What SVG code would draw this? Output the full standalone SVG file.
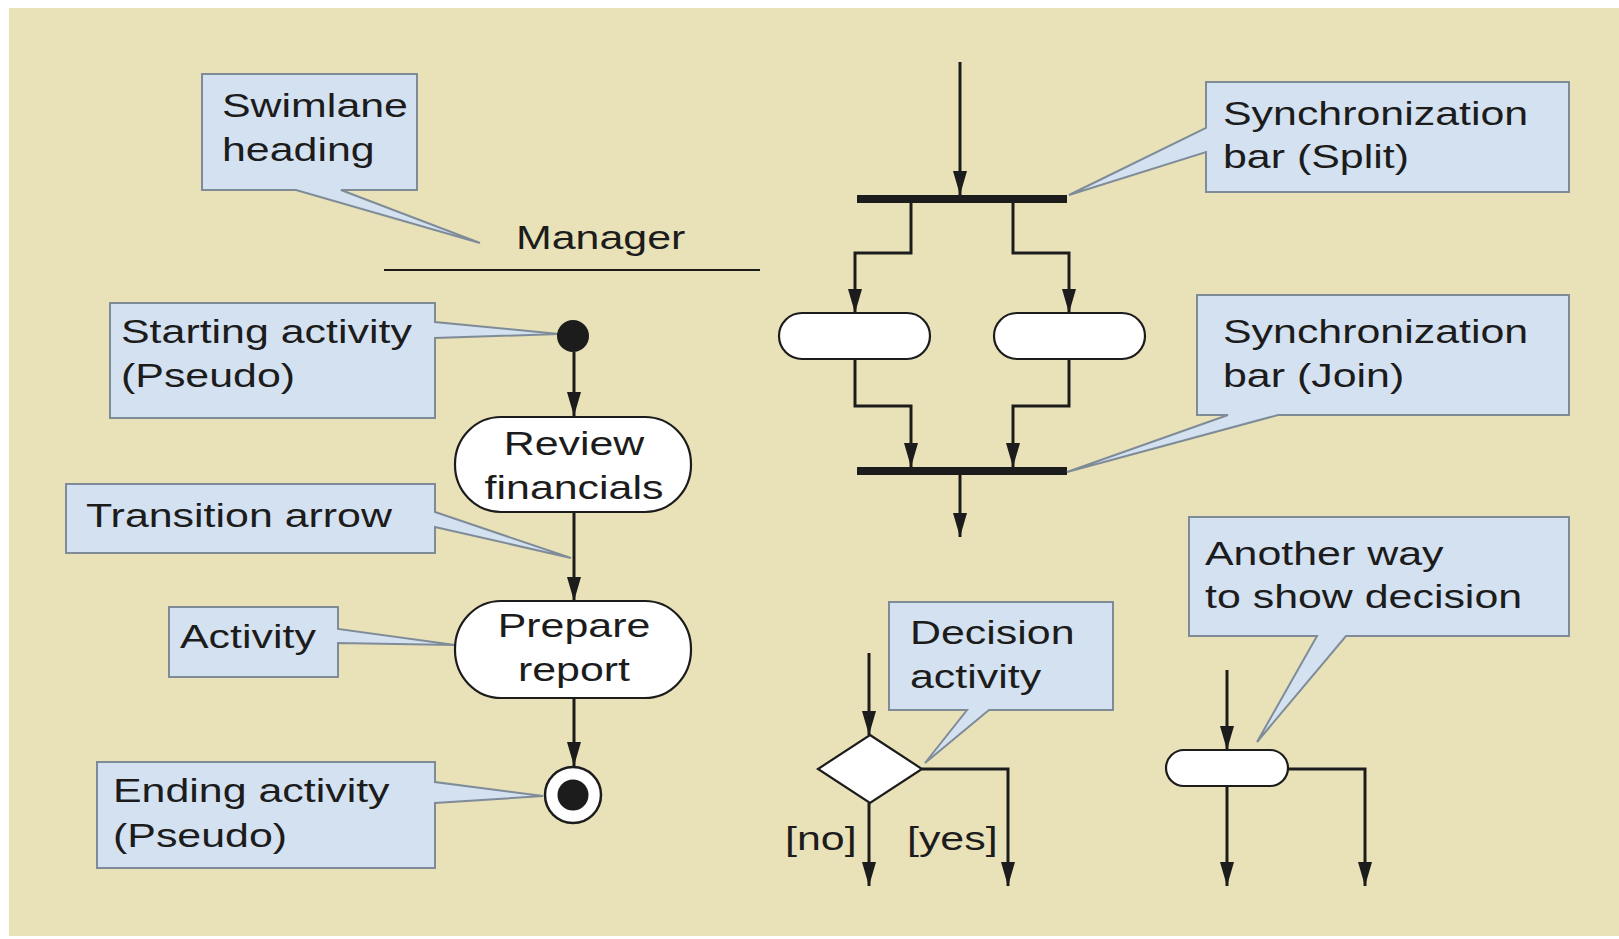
<svg xmlns="http://www.w3.org/2000/svg" width="1619" height="939" viewBox="0 0 1619 939">
<style>
.t{font-family:"Liberation Sans",Arial,sans-serif;font-size:33px;fill:#1c1c1c}
.call{fill:#d4e1f0;stroke:#7f8c98;stroke-width:2;stroke-linejoin:miter}
.node{fill:#ffffff;stroke:#1c1c1c;stroke-width:2.2}
.ln{fill:none;stroke:#1c1c1c;stroke-width:3}
.arr{fill:none;stroke:#1c1c1c;stroke-width:3;marker-end:url(#ah)}
.bar{fill:#1c1c1c}
</style>
<defs>
<marker id="ah" markerUnits="userSpaceOnUse" markerWidth="24" markerHeight="14" refX="24" refY="7" orient="auto">
<path d="M0,0 L24,7 L0,14 Z" fill="#1c1c1c"/>
</marker>
</defs>
<rect x="0" y="0" width="1619" height="939" fill="#ffffff"/>
<rect x="9" y="8" width="1610" height="928" fill="#e9e2b9"/>

<g id="connectors">
<path class="arr" d="M574,352 V416"/>
<path class="arr" d="M574,512 V601"/>
<path class="arr" d="M574,698 V766"/>
<path class="arr" d="M960,62 V195"/>
<path class="arr" d="M911,203 V253 H855 V313"/>
<path class="arr" d="M1013,203 V253 H1069 V313"/>
<path class="arr" d="M855,359 V406 H911 V467"/>
<path class="arr" d="M1069,359 V406 H1013 V467"/>
<path class="arr" d="M960,475 V537"/>
<path class="arr" d="M869,653 V735"/>
<path class="arr" d="M869,803 V886"/>
<path class="arr" d="M922,769 H1008 V886"/>
<path class="arr" d="M1227,670 V750"/>
<path class="arr" d="M1227,786 V886"/>
<path class="arr" d="M1288,769 H1365 V886"/>
</g>

<g id="swimlane">
<line x1="384" y1="270" x2="760" y2="270" stroke="#1c1c1c" stroke-width="2"/>
<text class="t" transform="translate(516,249) scale(1.3,1)">Manager</text>
</g>

<g id="callout-swimlane">
<path class="call" d="M202,74 H417 V190 H341 L480,243 L296,190 H202 Z"/>
<text class="t" transform="translate(222,117) scale(1.3,1)"><tspan x="0" y="0">Swimlane</tspan><tspan x="0" y="44">heading</tspan></text>
</g>

<g id="callout-start">
<path class="call" d="M110,303 H435 V322 L559,334 L435,338 V418 H110 Z"/>
<text class="t" transform="translate(121,343) scale(1.3,1)"><tspan x="0" y="0">Starting activity</tspan><tspan x="0" y="44">(Pseudo)</tspan></text>
</g>

<g id="callout-transition">
<path class="call" d="M66,484 H435 V512 L571,558 L435,527 V553 H66 Z"/>
<text class="t" transform="translate(86,527) scale(1.3,1)">Transition arrow</text>
</g>

<g id="callout-activity">
<path class="call" d="M169,607 H338 V629 L455,645 L338,643 V677 H169 Z"/>
<text class="t" transform="translate(180,648) scale(1.3,1)">Activity</text>
</g>

<g id="callout-end">
<path class="call" d="M97,762 H435 V782 L543,796 L435,803 V868 H97 Z"/>
<text class="t" transform="translate(113,802) scale(1.3,1)"><tspan x="0" y="0">Ending activity</tspan><tspan x="0" y="45">(Pseudo)</tspan></text>
</g>

<g id="start">
<circle cx="573" cy="336" r="16" fill="#1c1c1c"/>
</g>

<g id="review">
<rect class="node" x="455" y="417" width="236" height="95" rx="46" ry="47"/>
<text class="t" text-anchor="middle" transform="translate(574,455) scale(1.3,1)"><tspan x="0" y="0">Review</tspan><tspan x="0" y="44">financials</tspan></text>
</g>

<g id="prepare">
<rect class="node" x="455" y="601" width="236" height="97" rx="46" ry="48"/>
<text class="t" text-anchor="middle" transform="translate(574,637) scale(1.3,1)"><tspan x="0" y="0">Prepare</tspan><tspan x="0" y="44">report</tspan></text>
</g>

<g id="end">
<circle cx="573" cy="795" r="28" fill="#ffffff" stroke="#1c1c1c" stroke-width="2.5"/>
<circle cx="573" cy="795" r="15.5" fill="#1c1c1c"/>
</g>

<g id="split-bar">
<rect class="bar" x="857" y="195" width="210" height="8"/>
</g>

<g id="join-bar">
<rect class="bar" x="857" y="467" width="210" height="8"/>
</g>

<g id="pill-left">
<rect class="node" x="779" y="313" width="151" height="46" rx="23" ry="23"/>
</g>

<g id="pill-right">
<rect class="node" x="994" y="313" width="151" height="46" rx="23" ry="23"/>
</g>

<g id="callout-split">
<path class="call" d="M1206,82 H1569 V192 H1206 V152 L1069,195 L1206,128 Z"/>
<text class="t" transform="translate(1223,125) scale(1.3,1)"><tspan x="0" y="0">Synchronization</tspan><tspan x="0" y="43">bar (Split)</tspan></text>
</g>

<g id="callout-join">
<path class="call" d="M1197,295 H1569 V415 H1278 L1067,472 L1228,415 H1197 Z"/>
<text class="t" transform="translate(1223,343) scale(1.3,1)"><tspan x="0" y="0">Synchronization</tspan><tspan x="0" y="44">bar (Join)</tspan></text>
</g>

<g id="callout-decision">
<path class="call" d="M889,602 H1113 V710 H989 L925,763 L967,710 H889 Z"/>
<text class="t" transform="translate(910,644) scale(1.3,1)"><tspan x="0" y="0">Decision</tspan><tspan x="0" y="44">activity</tspan></text>
</g>

<g id="decision">
<path class="node" d="M870,735 L922,769 L870,803 L818,769 Z"/>
<text class="t" transform="translate(785,850) scale(1.3,1)">[no]</text>
<text class="t" transform="translate(907,850) scale(1.3,1)">[yes]</text>
</g>

<g id="callout-another">
<path class="call" d="M1189,517 H1569 V636 H1346 L1257,742 L1317,636 H1189 Z"/>
<text class="t" transform="translate(1205,565) scale(1.3,1)"><tspan x="0" y="0">Another way</tspan><tspan x="0" y="43">to show decision</tspan></text>
</g>

<g id="pill-decision">
<rect class="node" x="1166" y="750" width="122" height="36" rx="18" ry="18"/>
</g>
</svg>
